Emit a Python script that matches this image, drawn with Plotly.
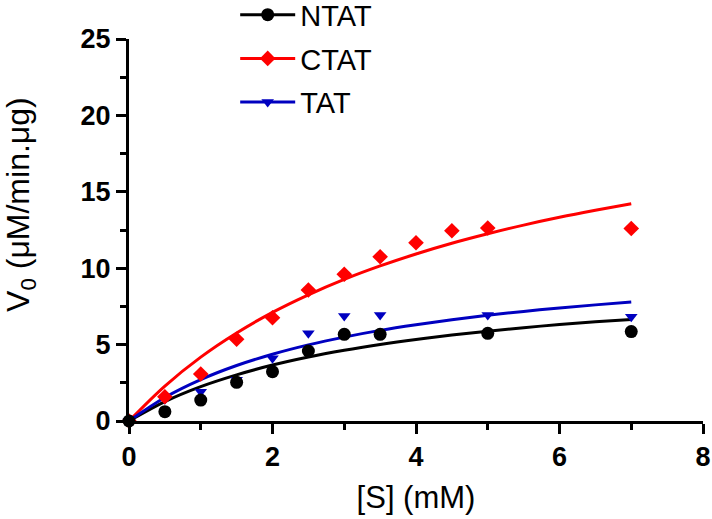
import plotly.graph_objects as go

# ---- data ----
ntat_x = [0, 0.5, 1, 1.5, 2, 2.5, 3, 3.5, 5, 7]
ntat_y = [0, 0.61, 1.37, 2.53, 3.23, 4.58, 5.67, 5.67, 5.74, 5.85]

ctat_x = [0, 0.5, 1, 1.5, 2, 2.5, 3, 3.5, 4, 4.5, 5, 7]
ctat_y = [0, 1.59, 3.08, 5.35, 6.76, 8.57, 9.6, 10.75, 11.67, 12.45, 12.63, 12.6]

tat_x = [0, 0.5, 1, 1.5, 2, 2.5, 3, 3.5, 5, 7]
tat_y = [0, 1.42, 1.92, 2.7, 4.1, 5.74, 6.87, 6.94, 6.94, 6.83]

fit_x = [0, 0.5, 1, 1.5, 2, 2.5, 3, 3.5, 4, 4.5, 5, 5.5, 6, 6.5, 7]
ntat_fit = [0, 1.27, 2.25, 3.02, 3.66, 4.19, 4.63, 5.01, 5.34, 5.63, 5.88, 6.11, 6.31, 6.49, 6.65]
ctat_fit = [0, 2.29, 4.18, 5.76, 7.11, 8.26, 9.27, 10.15, 10.93, 11.63, 12.25, 12.82, 13.33, 13.79, 14.22]
tat_fit = [0, 1.54, 2.71, 3.63, 4.37, 4.98, 5.49, 5.93, 6.30, 6.63, 6.92, 7.17, 7.40, 7.60, 7.78]

x_ticks = [0, 2, 4, 6, 8]
y_ticks = [0, 5, 10, 15, 20, 25]

series = [
    ("NTAT", ntat_x, ntat_y, ntat_fit, "#000000", "circle", 13),
    ("CTAT", ctat_x, ctat_y, ctat_fit, "#ff0000", "diamond", 12),
    ("TAT", tat_x, tat_y, tat_fit, "#0000c0", "triangle-down", 11),
]

fig = go.Figure()

# fitted curves
for name, xs, ys, fit, col, sym, sz in series:
    fig.add_trace(go.Scatter(x=fit_x, y=fit, mode="lines", line=dict(color=col, width=3, shape="spline"),
                             showlegend=False, hoverinfo="skip", cliponaxis=False))

# data points (TAT, CTAT, then NTAT on top)
for name, xs, ys, fit, col, sym, sz in reversed(series):
    fig.add_trace(go.Scatter(x=xs, y=ys, mode="markers", marker=dict(color=col, symbol=sym, size=sz),
                             showlegend=False, cliponaxis=False))

# legend entries
for i, (name, xs, ys, fit, col, sym, sz) in enumerate(series):
    fig.add_trace(go.Scatter(x=[None], y=[None], mode="lines+markers", name=name, legendgroup=name,
                             line=dict(color=col, width=3), marker=dict(color=col, symbol=sym, size=sz)))

FONT = "Liberation Sans, Arial, sans-serif"
tick_font = dict(family=FONT, size=27, color="black", weight="bold")

fig.update_layout(
    width=712, height=519,
    margin=dict(l=129, r=9, t=39, b=98, autoexpand=False),
    paper_bgcolor="white", plot_bgcolor="white",
    showlegend=True,
    legend=dict(x=0.185, y=1.13, xanchor="left", yanchor="top",
                font=dict(family=FONT, size=29, color="black"),
                bgcolor="rgba(0,0,0,0)", tracegroupgap=3, itemwidth=55, traceorder="grouped"),
    xaxis=dict(range=[0, 8], tickvals=x_ticks, ticks="outside", ticklen=10, tickwidth=3, tickcolor="black",
               showline=True, linewidth=3, linecolor="black", showgrid=False, zeroline=False, automargin=False,
               tickfont=tick_font, minor=dict(dtick=1, ticks="outside", ticklen=6, tickwidth=3, tickcolor="black"),
               title=dict(text="[S] (mM)", font=dict(family=FONT, size=31, color="black"), standoff=15)),
    yaxis=dict(range=[0, 25], tickvals=y_ticks, ticks="outside", ticklen=10, tickwidth=3, tickcolor="black",
               showline=True, linewidth=3, linecolor="black", showgrid=False, zeroline=False, automargin=False,
               tickfont=tick_font, minor=dict(dtick=2.5, ticks="outside", ticklen=6, tickwidth=3, tickcolor="black")),
    annotations=[dict(text="V<sub>0</sub> (μM/min.μg)", textangle=-90, xref="paper", yref="paper",
                      x=-0.19, y=0.568, xanchor="center", yanchor="middle", showarrow=False,
                      font=dict(family=FONT, size=32, color="black"))],
)

fig.write_html("out.html", config={"displayModeBar": False},
               post_script="document.body.style.margin='0';")
